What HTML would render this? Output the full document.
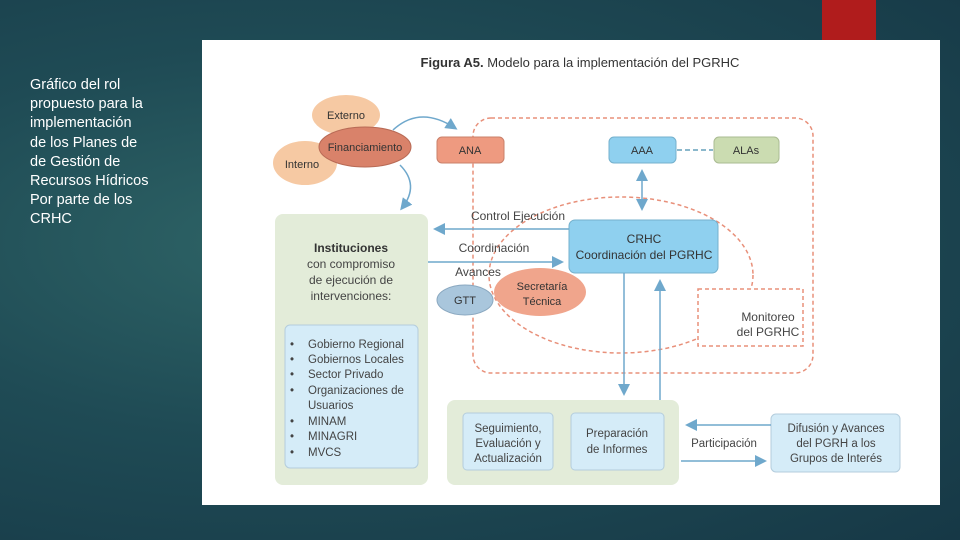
<!DOCTYPE html>
<html><head><meta charset="utf-8"><style>
body{margin:0;width:960px;height:540px;overflow:hidden;background:radial-gradient(ellipse at 30% 45%,#2e6466 0%,#1f4b55 45%,#163846 100%);font-family:"Liberation Sans",sans-serif;position:relative}
.side{position:absolute;left:30px;top:76px;color:#fff;font-size:14.5px;line-height:19.2px;white-space:nowrap}
svg{position:absolute;left:0;top:0}
</style></head><body>
<div class="side">Gráfico del rol<br>propuesto para la<br>implementación<br>de los Planes de<br>de Gestión de<br>Recursos Hídricos<br>Por parte de los<br>CRHC</div>
<svg width="960" height="540" viewBox="0 0 960 540" font-family="Liberation Sans, sans-serif">
<defs>
<marker id="a" markerWidth="8" markerHeight="8" refX="6" refY="4" orient="auto-start-reverse"><path d="M0,0 L8,4 L0,8 z" fill="#6fa8cc"/></marker>
</defs>
<rect x="822" y="0" width="54" height="40" fill="#b01c1c"/>
<rect x="202" y="40" width="738" height="465" fill="#fff"/>
<text x="580" y="67" font-size="13" text-anchor="middle" fill="#333"><tspan font-weight="bold">Figura A5.</tspan> Modelo para la implementación del PGRHC</text>
<rect x="473" y="118" width="340" height="255" rx="18" fill="none" stroke="#e8907a" stroke-width="1.5" stroke-dasharray="4,3"/>
<ellipse cx="621" cy="275" rx="132" ry="78" fill="none" stroke="#e8907a" stroke-width="1.5" stroke-dasharray="4,3"/>
<rect x="698" y="289" width="105" height="57" fill="#fff" stroke="#e8907a" stroke-width="1.5" stroke-dasharray="4,3"/>
<text x="768" y="321" font-size="12" text-anchor="middle" fill="#444">Monitoreo</text>
<text x="768" y="336" font-size="12" text-anchor="middle" fill="#444">del PGRHC</text>
<ellipse cx="346" cy="115" rx="34" ry="20" fill="#f6c9a3"/>
<ellipse cx="305" cy="163" rx="32" ry="22" fill="#f6c9a3"/>
<ellipse cx="365" cy="147" rx="46" ry="20" fill="#d9826a" stroke="#b86a55"/>
<text x="346" y="119" font-size="11" text-anchor="middle" fill="#333">Externo</text>
<text x="302" y="168" font-size="11" text-anchor="middle" fill="#333">Interno</text>
<text x="365" y="151" font-size="11" text-anchor="middle" fill="#333">Financiamiento</text>
<path d="M393,130 Q420,105 455,128" fill="none" stroke="#6fa8cc" stroke-width="1.5" marker-end="url(#a)"/>
<path d="M400,165 Q420,185 402,208" fill="none" stroke="#6fa8cc" stroke-width="1.5" marker-end="url(#a)"/>
<rect x="437" y="137" width="67" height="26" rx="5" fill="#ee9a80" stroke="#c9806a"/>
<text x="470" y="154" font-size="11" text-anchor="middle" fill="#333">ANA</text>
<rect x="609" y="137" width="67" height="26" rx="5" fill="#8fd0ef" stroke="#74b0cc"/>
<text x="642" y="154" font-size="11" text-anchor="middle" fill="#333">AAA</text>
<rect x="714" y="137" width="65" height="26" rx="5" fill="#cbdcb1" stroke="#aabb92"/>
<text x="746" y="154" font-size="11" text-anchor="middle" fill="#333">ALAs</text>
<line x1="677" y1="150" x2="713" y2="150" stroke="#8bb8cc" stroke-width="2" stroke-dasharray="5,3"/>
<line x1="642" y1="172" x2="642" y2="208" stroke="#6fa8cc" stroke-width="1.5" marker-start="url(#a)" marker-end="url(#a)"/>
<rect x="569" y="220" width="149" height="53" rx="6" fill="#8fd0ef" stroke="#74b0cc"/>
<text x="644" y="243" font-size="12" text-anchor="middle" fill="#333">CRHC</text>
<text x="644" y="259" font-size="12" text-anchor="middle" fill="#333">Coordinación del PGRHC</text>
<rect x="275" y="214" width="153" height="271" rx="8" fill="#e3ecd9"/>
<text x="351" y="252" font-size="12" font-weight="bold" text-anchor="middle" fill="#333">Instituciones</text>
<text x="351" y="268" font-size="12" text-anchor="middle" fill="#444">con compromiso</text>
<text x="351" y="284" font-size="12" text-anchor="middle" fill="#444">de ejecución de</text>
<text x="351" y="300" font-size="12" text-anchor="middle" fill="#444">intervenciones:</text>
<rect x="285" y="325" width="133" height="143" rx="5" fill="#d5ecf8" stroke="#b4cddd"/>
<g font-size="11.5" fill="#444">
<text x="290" y="348">•</text><text x="308" y="348">Gobierno Regional</text>
<text x="290" y="363">•</text><text x="308" y="363">Gobiernos Locales</text>
<text x="290" y="378">•</text><text x="308" y="378">Sector Privado</text>
<text x="290" y="394">•</text><text x="308" y="394">Organizaciones de</text>
<text x="308" y="409">Usuarios</text>
<text x="290" y="425">•</text><text x="308" y="425">MINAM</text>
<text x="290" y="440">•</text><text x="308" y="440">MINAGRI</text>
<text x="290" y="456">•</text><text x="308" y="456">MVCS</text>
</g>
<line x1="569" y1="229" x2="436" y2="229" stroke="#6fa8cc" stroke-width="1.5" marker-end="url(#a)"/>
<line x1="428" y1="262" x2="561" y2="262" stroke="#6fa8cc" stroke-width="1.5" marker-end="url(#a)"/>
<text x="518" y="220" font-size="12" text-anchor="middle" fill="#444">Control Ejecución</text>
<text x="494" y="252" font-size="12" text-anchor="middle" fill="#444">Coordinación</text>
<text x="478" y="276" font-size="12" text-anchor="middle" fill="#444">Avances</text>
<ellipse cx="540" cy="292" rx="46" ry="24" fill="#f0a58c"/>
<ellipse cx="465" cy="300" rx="28" ry="15" fill="#a9c6dc" stroke="#8aa8c0"/>
<text x="465" y="304" font-size="11" text-anchor="middle" fill="#333">GTT</text>
<text x="542" y="290" font-size="11" text-anchor="middle" fill="#333">Secretaría</text>
<text x="542" y="305" font-size="11" text-anchor="middle" fill="#333">Técnica</text>
<line x1="624" y1="273" x2="624" y2="393" stroke="#6fa8cc" stroke-width="1.5" marker-end="url(#a)"/>
<line x1="660" y1="400" x2="660" y2="282" stroke="#6fa8cc" stroke-width="1.5" marker-end="url(#a)"/>
<rect x="447" y="400" width="232" height="85" rx="8" fill="#e3ecd9"/>
<rect x="463" y="413" width="90" height="57" rx="4" fill="#d5ecf8" stroke="#b4cddd"/>
<text x="508" y="432" font-size="11.5" text-anchor="middle" fill="#444">Seguimiento,</text>
<text x="508" y="447" font-size="11.5" text-anchor="middle" fill="#444">Evaluación y</text>
<text x="508" y="462" font-size="11.5" text-anchor="middle" fill="#444">Actualización</text>
<rect x="571" y="413" width="93" height="57" rx="4" fill="#d5ecf8" stroke="#b4cddd"/>
<text x="617" y="437" font-size="11.5" text-anchor="middle" fill="#444">Preparación</text>
<text x="617" y="453" font-size="11.5" text-anchor="middle" fill="#444">de Informes</text>
<rect x="771" y="414" width="129" height="58" rx="5" fill="#d5ecf8" stroke="#b4cddd"/>
<text x="836" y="432" font-size="11.5" text-anchor="middle" fill="#444">Difusión y Avances</text>
<text x="836" y="447" font-size="11.5" text-anchor="middle" fill="#444">del PGRH a los</text>
<text x="836" y="462" font-size="11.5" text-anchor="middle" fill="#444">Grupos de Interés</text>
<line x1="771" y1="425" x2="688" y2="425" stroke="#6fa8cc" stroke-width="1.5" marker-end="url(#a)"/>
<line x1="681" y1="461" x2="764" y2="461" stroke="#6fa8cc" stroke-width="1.5" marker-end="url(#a)"/>
<text x="724" y="447" font-size="11.5" text-anchor="middle" fill="#444">Participación</text>
</svg>
</body></html>
